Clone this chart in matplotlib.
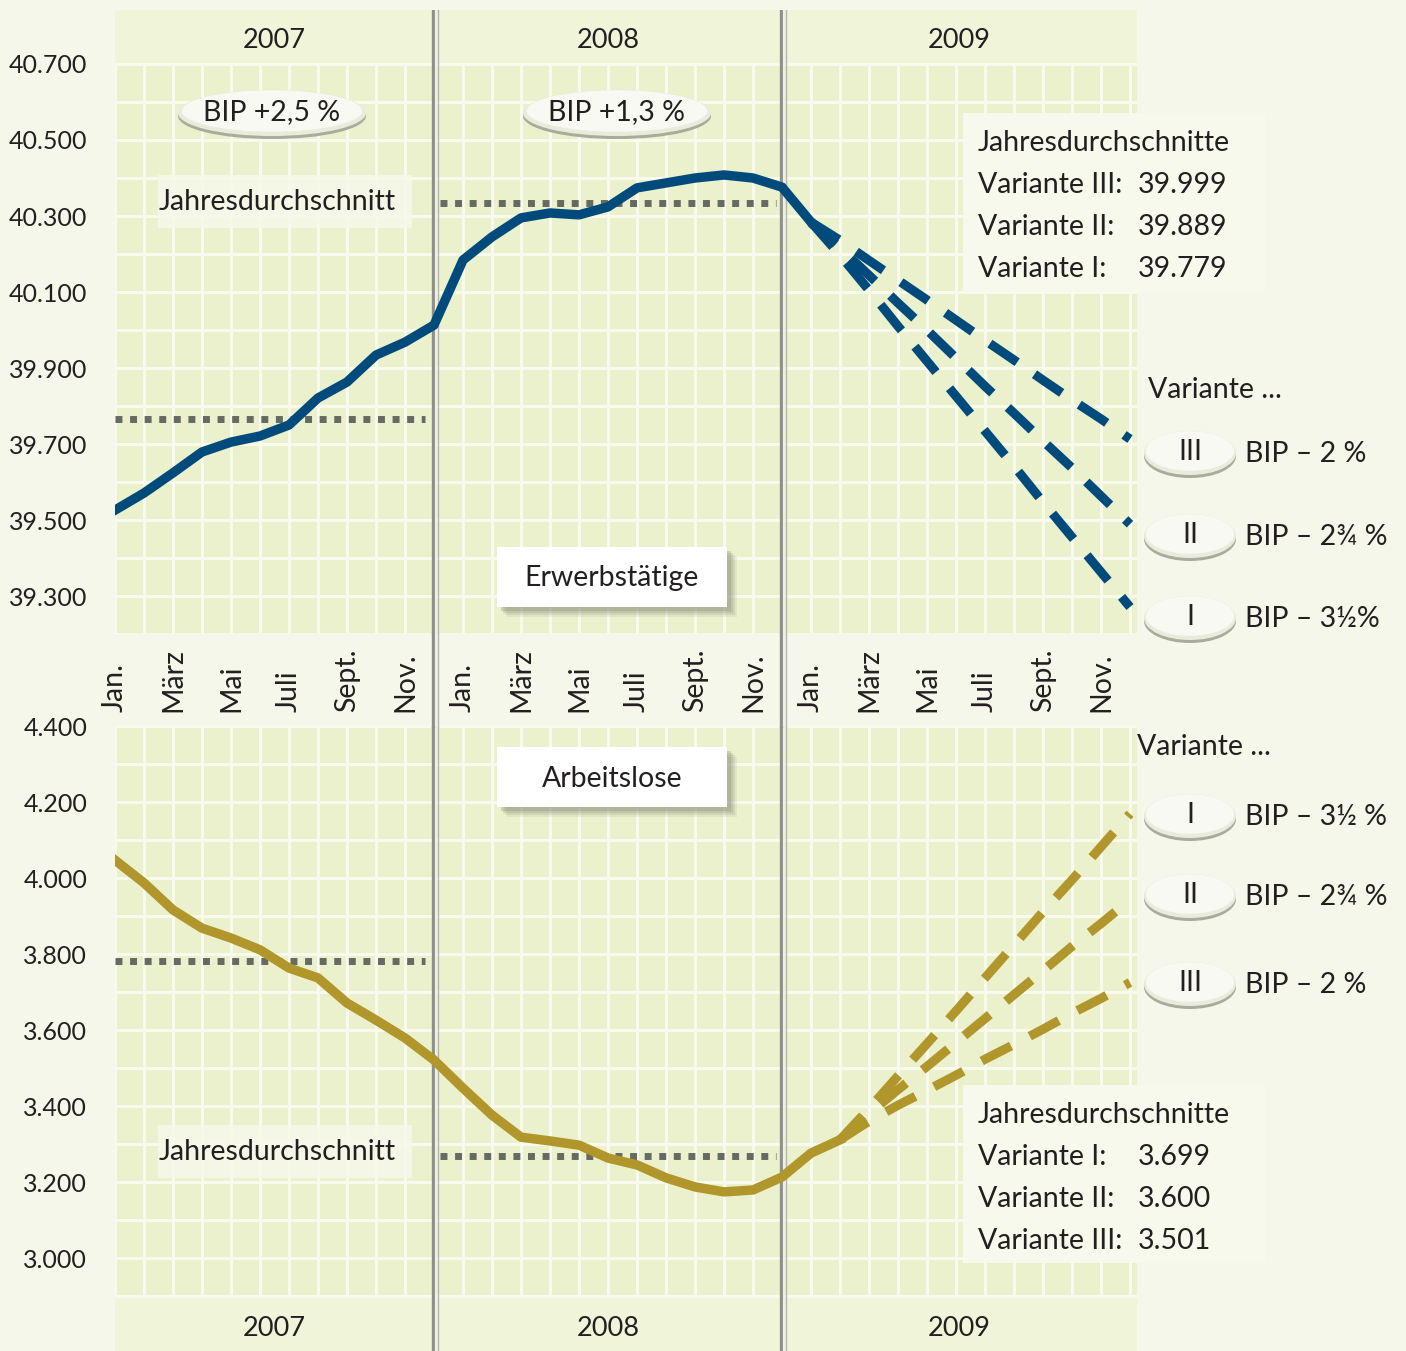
import numpy as np
import matplotlib
matplotlib.use("Agg")
import matplotlib.pyplot as plt
from matplotlib.patches import Ellipse, Rectangle
from matplotlib.lines import Line2D
from matplotlib.transforms import blended_transform_factory

plt.rcParams["font.family"] = ["Lato", "DejaVu Sans"]

# month index 0 = Jan 2007 ... 35 = Dez 2009
monate = np.arange(36)
monat_labels = ["Jan.", "März", "Mai", "Juli", "Sept.", "Nov."]
monat_pos = [0, 2, 4, 6, 8, 10]
jahre = ["2007", "2008", "2009"]
jahr_grenzen = [0, 11, 23]

# Erwerbstaetige (Tsd.), Ist bis Jan 2009, danach Varianten
erwerbs_ist = [39526, 39571, 39624, 39679, 39705, 39721, 39750, 39821, 39863, 39934, 39968, 40013,
               40184, 40245, 40295, 40308, 40303, 40324, 40374, 40387, 40400, 40408, 40400, 40376,
               40284]
erwerbs_v3 = [40284, 40236, 40183, 40131, 40079, 40026, 39973, 39921, 39868, 39816, 39766, 39713]
erwerbs_v2 = [40284, 40216, 40144, 40071, 40000, 39926, 39852, 39781, 39708, 39637, 39563, 39489]
erwerbs_v1 = [40284, 40197, 40105, 40010, 39918, 39826, 39734, 39642, 39547, 39455, 39363, 39271]

# Arbeitslose (Tsd.), Ist bis Feb 2009
arbeitslose_ist = [4047, 3987, 3916, 3868, 3842, 3811, 3763, 3737, 3671, 3626, 3579, 3521,
                   3447, 3376, 3318, 3308, 3297, 3263, 3245, 3211, 3187, 3174, 3179, 3213,
                   3276, 3311]
arbeitslose_v1 = [3311, 3393, 3479, 3564, 3650, 3737, 3824, 3911, 3995, 4082, 4169]
arbeitslose_v2 = [3311, 3380, 3443, 3504, 3567, 3630, 3693, 3756, 3820, 3880, 3943]
arbeitslose_v3 = [3311, 3360, 3402, 3441, 3481, 3523, 3562, 3602, 3644, 3683, 3725]

bip_jahre = ["BIP +2,5 %", "BIP +1,3 %"]
varianten_oben = ["III", "II", "I"]
bip_oben = ["BIP – 2 %", "BIP – 2¾ %", "BIP – 3½%"]
jd_oben = [39999, 39889, 39779]
varianten_unten = ["I", "II", "III"]
bip_unten = ["BIP – 3½ %", "BIP – 2¾ %", "BIP – 2 %"]
jd_unten = [3699, 3600, 3501]

BG = "#f5f7ea"
AREA = "#ebf1cd"
BAND = "#f0f5da"
GRID = "#f8faee"
BLUE = "#014b7c"
OLIVE = "#b0962b"
DOT = "#666b62"
TXT = "#231f20"

W, H = 1406, 1351
fig = plt.figure(figsize=(W / 100, H / 100), dpi=100)
fig.patch.set_facecolor(BG)


def fx(px):
    return px / W


def fy(py):
    return 1 - py / H


def fmt(v):
    return f"{v:,}".replace(",", ".")


x_max = (1137 - 115) / 29
ax1 = fig.add_axes([fx(115), fy(634), (1137 - 115) / W, 624 / H])
ax2 = fig.add_axes([fx(115), 0, (1137 - 115) / W, 625 / H])


def setup(ax, lo, hi, ylim):
    ax.set_facecolor(AREA)
    ax.set_xlim(0, x_max)
    ax.set_ylim(*ylim)
    for s in ax.spines.values():
        s.set_visible(False)
    ax.set_xticks([])
    ticks = np.arange(lo + 100, hi + 1, 200)
    ax.set_yticks(ticks)
    ax.set_yticklabels([fmt(t) for t in ticks], fontsize=18, color=TXT)
    ax.tick_params(axis="y", length=0, pad=20)
    ax.hlines(np.arange(lo, hi + 1, 100), 0, x_max, color=GRID, lw=2.2, zorder=1)
    ax.vlines(monate, lo, hi, color=GRID, lw=2.2, zorder=1)
    for g in jahr_grenzen[1:]:
        ax.axvline(g - 0.05, color="#8e8f8a", lw=2.4, zorder=3)
        ax.axvline(g + 0.06, color="#eeefe8", lw=1.6, zorder=3)
        ax.axvline(g + 0.15, color="#b4b5ae", lw=1.0, zorder=3)


setup(ax1, 39200, 40700, (39200, 39200 + 624 / 0.38))
ax1.axhspan(40700, 39200 + 624 / 0.38, color=BAND, zorder=0.5, lw=0)
setup(ax2, 2900, 4400, (2900 - 55 / 0.38, 4400))
ax2.axhspan(2900 - 55 / 0.38, 2900, color=BAND, zorder=0.5, lw=0)

# Jahresdurchschnitte 2007/2008
for ax, serie in ((ax1, erwerbs_ist), (ax2, arbeitslose_ist)):
    ax.plot([0, 10.7], [np.mean(serie[0:12])] * 2, color=DOT, lw=5, dashes=(1, 1.1), zorder=4)
    ax.plot([11.2, 22.8], [np.mean(serie[12:24])] * 2, color=DOT, lw=5, dashes=(1, 1.1), zorder=4)

ax1.plot(monate[:len(erwerbs_ist)], erwerbs_ist, color=BLUE, lw=6.8, solid_joinstyle="round", zorder=5)
for v in (erwerbs_v1, erwerbs_v2, erwerbs_v3):
    ax1.plot(monate[24:], v, color=BLUE, lw=6.6, dashes=(3.6, 2.3), zorder=5)

ax2.plot(monate[:len(arbeitslose_ist)], arbeitslose_ist, color=OLIVE, lw=6.8, solid_joinstyle="round", zorder=5)
for v in (arbeitslose_v1, arbeitslose_v2, arbeitslose_v3):
    ax2.plot(monate[25:], v, color=OLIVE, lw=6.6, dashes=(3.6, 2.3), zorder=5)

# separators in the month band
bt = blended_transform_factory(ax1.transData, fig.transFigure)
for g in jahr_grenzen[1:]:
    for dx, c, w in ((-0.05, "#8e8f8a", 2.4), (0.06, "#eeefe8", 1.6), (0.15, "#b4b5ae", 1.0)):
        fig.add_artist(Line2D([g + dx, g + dx], [fy(634), fy(726)], transform=bt, color=c, lw=w))

# month labels and year labels
for k in range(3):
    for p, lab in zip(monat_pos, monat_labels):
        fig.text(p + 12 * k, fy(712), lab, transform=bt, rotation=90,
                 ha="center", va="bottom", fontsize=20.5, color=TXT)
grenzen = jahr_grenzen + [x_max]
for k, j in enumerate(jahre):
    mid = (grenzen[k] + grenzen[k + 1]) / 2
    fig.text(mid, fy(40), j, transform=bt, ha="center", va="center", fontsize=19.5, color=TXT)
    fig.text(mid, fy(1328), j, transform=bt, ha="center", va="center", fontsize=19.5, color=TXT)


def box(x0, y0, x1, y1, fc, alpha=1.0, shadow=False):
    if shadow:
        for off, a in ((10, 0.12), (8, 0.18), (6, 0.25), (4, 0.3)):
            fig.add_artist(Rectangle((fx(x0 + off), fy(y1 + off)), (x1 - x0) / W, (y1 - y0) / H,
                                     transform=fig.transFigure, fc="#8d937a", alpha=a, ec="none"))
    fig.add_artist(Rectangle((fx(x0), fy(y1)), (x1 - x0) / W, (y1 - y0) / H,
                             transform=fig.transFigure, fc=fc, alpha=alpha, ec="none"))


def oval(cx, cy, w, h):
    fig.add_artist(Ellipse((fx(cx), fy(cy + 4)), w / W, h / H, transform=fig.transFigure,
                           fc="#a9ac9a", ec="none"))
    fig.add_artist(Ellipse((fx(cx), fy(cy + 1)), w / W, h / H, transform=fig.transFigure,
                           fc="#e9ebdc", ec="none"))
    fig.add_artist(Ellipse((fx(cx), fy(cy - 1)), w * 0.96 / W, h * 0.9 / H, transform=fig.transFigure,
                           fc="#f8f9f2", ec="none"))


def t(x, y, s, ha="left", size=20.5):
    fig.text(fx(x), fy(y), s, ha=ha, va="center", fontsize=size, color=TXT)


# BIP ovals
for cx, s in zip((272, 617), bip_jahre):
    oval(cx, 112, 188, 46)
    t(cx, 112, s, ha="center")

# Jahresdurchschnitt labels
for y in (202, 1152):
    box(158, y - 27, 412, y + 26, "#f6f8e9", alpha=0.9)
    t(277, y, "Jahresdurchschnitt", ha="center")

box(497, 547, 727, 607, "white", shadow=True)
t(612, 578, "Erwerbstätige", ha="center")
box(497, 747, 727, 807, "white", shadow=True)
t(612, 779, "Arbeitslose", ha="center")

# Varianten info boxes
box(963, 113, 1265, 292, "#f7f9ed")
t(978, 143, "Jahresdurchschnitte")
for k, (v, jd) in enumerate(zip(varianten_oben, jd_oben)):
    t(978, 185 + 42 * k, f"Variante {v}:")
    t(1138, 185 + 42 * k, fmt(jd))

box(963, 1085, 1265, 1263, "#f7f9ed")
t(978, 1115, "Jahresdurchschnitte")
for k, (v, jd) in enumerate(zip(varianten_unten, jd_unten)):
    t(978, 1157 + 42 * k, f"Variante {v}:")
    t(1138, 1157 + 42 * k, fmt(jd))

# Varianten legend on the right
t(1148, 390, "Variante ...")
for cy, v, b in zip((452, 535, 617), varianten_oben, bip_oben):
    oval(1190, cy, 92, 44)
    t(1190, cy, v, ha="center")
    t(1245, cy + 2, b)

t(1137, 747, "Variante ...")
for cy, v, b in zip((815, 895, 983), varianten_unten, bip_unten):
    oval(1190, cy, 92, 44)
    t(1190, cy, v, ha="center")
    t(1245, cy + 2, b)

fig.savefig("out.png", dpi=100, facecolor=BG)
